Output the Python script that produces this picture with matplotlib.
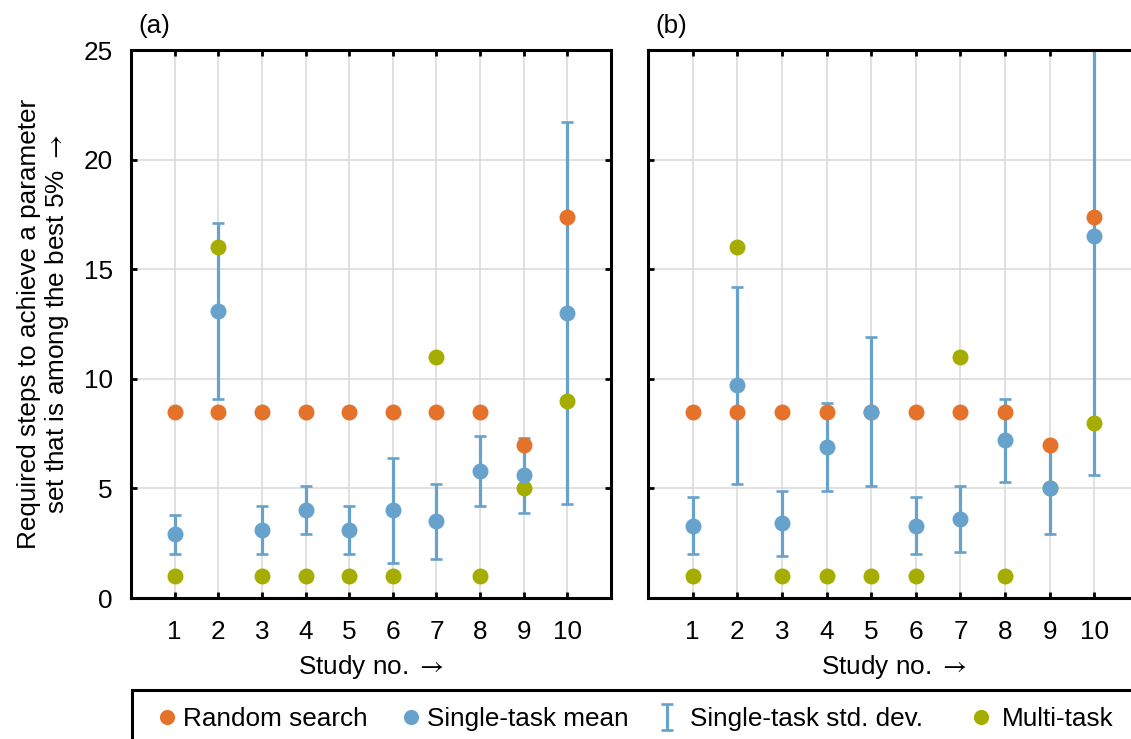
import matplotlib
matplotlib.use("Agg")
import matplotlib.pyplot as plt
from matplotlib.patches import Rectangle

plt.rcParams['font.family'] = ['Liberation Sans', 'DejaVu Sans']
plt.rcParams['mathtext.fontset'] = 'stix'

studies = [1, 2, 3, 4, 5, 6, 7, 8, 9, 10]
xticklabels = ['1', '2', '3', '4', '5', '6', '7', '8', '9', '10']
yticks = [0, 5, 10, 15, 20, 25]

# Panel (a)
random_a = [8.5, 8.5, 8.5, 8.5, 8.5, 8.5, 8.5, 8.5, 7.0, 17.4]
single_mean_a = [2.9, 13.1, 3.1, 4.0, 3.1, 4.0, 3.5, 5.8, 5.6, 13.0]
single_std_a = [0.9, 4.0, 1.1, 1.1, 1.1, 2.4, 1.7, 1.6, 1.7, 8.7]
multi_a = [1.0, 16.0, 1.0, 1.0, 1.0, 1.0, 11.0, 1.0, 5.0, 9.0]

# Panel (b)
random_b = [8.5, 8.5, 8.5, 8.5, 8.5, 8.5, 8.5, 8.5, 7.0, 17.4]
single_mean_b = [3.3, 9.7, 3.4, 6.9, 8.5, 3.3, 3.6, 7.2, 5.0, 16.5]
single_std_b = [1.3, 4.5, 1.5, 2.0, 3.4, 1.3, 1.5, 1.9, 2.1, 10.9]
multi_b = [1.0, 16.0, 1.0, 1.0, 1.0, 1.0, 11.0, 1.0, 5.0, 8.0]

legend_labels = ['Random search', 'Single-task mean',
                 'Single-task std. dev.', 'Multi-task']

C_ORANGE = '#E4722A'
C_BLUE = '#66A2CB'
C_GREEN = '#A5AD00'
FS = 18.8
ARROW = r'$\rightarrow$'

W, H = 1131, 739
fig = plt.figure(figsize=(W / 100, H / 100), dpi=100)

axA = fig.add_axes([131 / W, 1 - 598 / H, 480 / W, 548 / H])
axB = fig.add_axes([648 / W, 1 - 598 / H, 491 / W, 548 / H])

handles = None
for ax, rnd, mean, std, multi, tag in [
        (axA, random_a, single_mean_a, single_std_a, multi_a, '(a)'),
        (axB, random_b, single_mean_b, single_std_b, multi_b, '(b)')]:
    ax.set_axisbelow(True)
    eb = ax.errorbar(studies, mean, yerr=std, fmt='none', ecolor=C_BLUE,
                     elinewidth=2.3, capsize=4.6, capthick=1.9, zorder=2)
    h_r, = ax.plot(studies, rnd, 'o', color=C_ORANGE, ms=11.5, mec='none',
                   zorder=3)
    h_m, = ax.plot(studies, multi, 'o', color=C_GREEN, ms=11.5, mec='none',
                   zorder=4)
    h_s, = ax.plot(studies, mean, 'o', color=C_BLUE, ms=11.5, mec='none',
                   zorder=5)
    if handles is None:
        handles = [h_r, h_s, eb, h_m]
    ax.set_xlim(0, 11)
    ax.set_ylim(0, 25)
    ax.set_xticks(studies)
    ax.set_xticklabels(xticklabels)
    ax.set_yticks(yticks)
    ax.grid(True, color='#D9D9D9', linewidth=1.1)
    ax.tick_params(axis='both', which='both', direction='in', length=4.5,
                   width=2.0, top=True, right=True, labelsize=FS, colors='black')
    ax.tick_params(axis='x', pad=15.5)
    ax.tick_params(axis='y', pad=13)
    for sp in ax.spines.values():
        sp.set_linewidth(2.2)
        sp.set_color('black')
    ax.set_xlabel('Study no. ' + ARROW, fontsize=FS, labelpad=6.5)
    ax.text(0.015, 1.044, tag, transform=ax.transAxes, fontsize=FS,
            ha='left', va='center')

axB.tick_params(axis='y', labelleft=False)

fig.text(44 / W, 1 - 324 / H,
         'Required steps to achieve a parameter\nset that is among the best 5% ' + ARROW,
         rotation=90, ha='center', va='center', multialignment='center',
         fontsize=FS, linespacing=1.05)

# legend box
fig.patches.append(Rectangle((132 / W, -0.05), 1.0, 1 - 690 / H + 0.05,
                             transform=fig.transFigure, fill=False,
                             edgecolor='black', linewidth=2.2))

# one legend entry per slot, placed as in the reference
entry_start_px = [159, 403, 659, 973]
entry_pad = [0.31, 0.31, 0.57, 0.50]
for h, lab, x0, pad in zip(handles, legend_labels, entry_start_px, entry_pad):
    fig.legend([h], [lab], loc='center left',
               bbox_to_anchor=(x0 / W, 1 - 719 / H),
               frameon=False, fontsize=FS, handlelength=0.6,
               handletextpad=pad, borderpad=0, borderaxespad=0,
               numpoints=1, markerscale=0.95)

fig.savefig('out.png', dpi=100)
